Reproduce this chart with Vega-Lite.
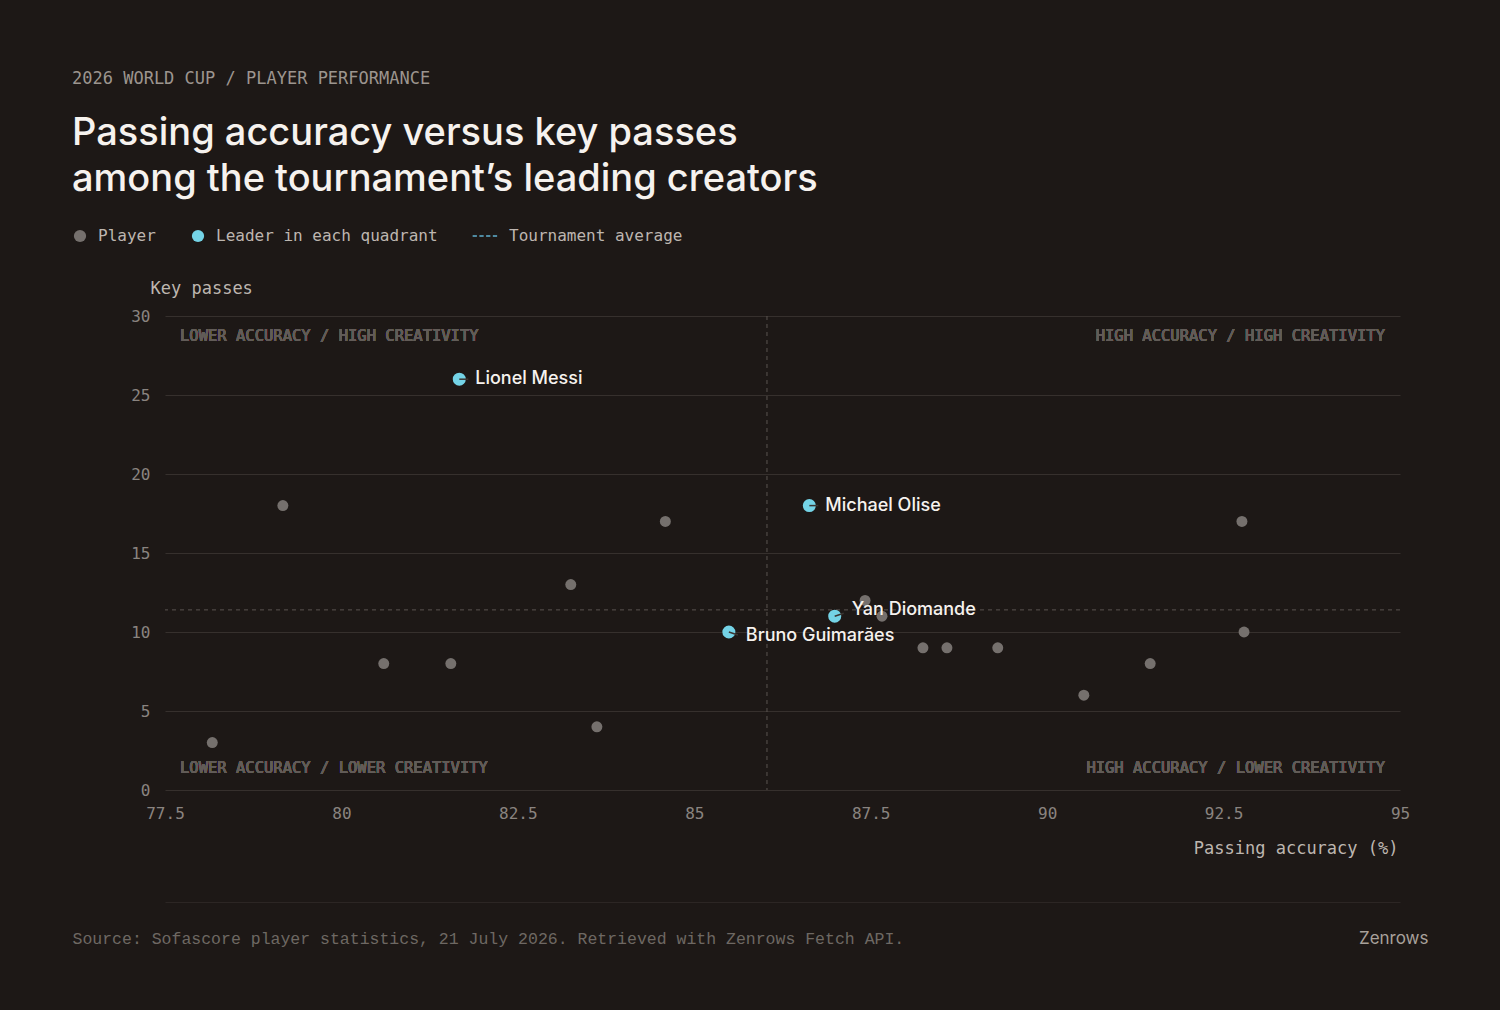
{
  "$schema": "https://vega.github.io/schema/vega-lite/v6.json",
  "width": 1235,
  "height": 474,
  "autosize": {"type": "none"},
  "padding": {"left": 165, "top": 316, "right": 100, "bottom": 220},
  "background": "#1d1816",
  "title": {
    "text": "2026 WORLD CUP / PLAYER PERFORMANCE",
    "subtitle": ["Passing accuracy versus key passes", "among the tournament’s leading creators"],
    "anchor": "start",
    "frame": "group",
    "dx": -93,
    "font": "DejaVu Sans Mono",
    "fontSize": 17,
    "fontWeight": "normal",
    "color": "#9c958f",
    "subtitleFont": "Inter",
    "subtitleFontSize": 38,
    "subtitleFontWeight": 500,
    "subtitleColor": "#f6f2ee",
    "subtitleLineHeight": 46,
    "subtitlePadding": 27,
    "offset": 28
  },
  "datasets": {
    "players": [
      {"player": "Player A", "kind": "Player", "accuracy": 78.17, "keyPasses": 3},
      {"player": "Player B", "kind": "Player", "accuracy": 79.17, "keyPasses": 18},
      {"player": "Player C", "kind": "Player", "accuracy": 80.6, "keyPasses": 8},
      {"player": "Player D", "kind": "Player", "accuracy": 81.55, "keyPasses": 8},
      {"player": "Player E", "kind": "Player", "accuracy": 83.25, "keyPasses": 13},
      {"player": "Player F", "kind": "Player", "accuracy": 83.62, "keyPasses": 4},
      {"player": "Player G", "kind": "Player", "accuracy": 84.59, "keyPasses": 17},
      {"player": "Player H", "kind": "Player", "accuracy": 87.42, "keyPasses": 12},
      {"player": "Player I", "kind": "Player", "accuracy": 87.66, "keyPasses": 11},
      {"player": "Player J", "kind": "Player", "accuracy": 88.24, "keyPasses": 9},
      {"player": "Player K", "kind": "Player", "accuracy": 88.58, "keyPasses": 9},
      {"player": "Player L", "kind": "Player", "accuracy": 89.3, "keyPasses": 9},
      {"player": "Player M", "kind": "Player", "accuracy": 90.52, "keyPasses": 6},
      {"player": "Player N", "kind": "Player", "accuracy": 91.46, "keyPasses": 8},
      {"player": "Player O", "kind": "Player", "accuracy": 92.76, "keyPasses": 17},
      {"player": "Player P", "kind": "Player", "accuracy": 92.79, "keyPasses": 10},
      {"player": "Lionel Messi", "kind": "Leader in each quadrant", "accuracy": 81.67, "keyPasses": 26},
      {"player": "Michael Olise", "kind": "Leader in each quadrant", "accuracy": 86.63, "keyPasses": 18},
      {"player": "Yan Diomande", "kind": "Leader in each quadrant", "accuracy": 86.99, "keyPasses": 11},
      {"player": "Bruno Guimarães", "kind": "Leader in each quadrant", "accuracy": 85.49, "keyPasses": 10}
    ],
    "averages": [
      {"accuracy": 86.03, "keyPasses": 11.4}
    ]
  },
  "data": {"name": "players"},
  "layer": [
    {
      "data": {"name": "averages"},
      "mark": {"type": "rule", "color": "#5a5350", "strokeWidth": 1, "strokeDash": [4, 4]},
      "encoding": {
        "x": {
          "field": "accuracy", "type": "quantitative",
          "scale": {"domain": [77.5, 95], "nice": false, "zero": false},
          "axis": {
            "orient": "bottom",
            "values": [77.5, 80, 82.5, 85, 87.5, 90, 92.5, 95],
            "format": ".1~f",
            "grid": false, "domain": false, "ticks": false, "tickSize": 0,
            "labelPadding": 15,
            "labelFont": "DejaVu Sans Mono", "labelFontSize": 16, "labelColor": "#8a8480",
            "labelFlush": false,
            "title": "Passing accuracy (%)",
            "titleFont": "DejaVu Sans Mono", "titleFontSize": 17, "titleFontWeight": "normal",
            "titleColor": "#bdb6b0",
            "titleX": 1233, "titleY": 58, "titleAlign": "right", "titleBaseline": "middle"
          }
        }
      }
    },
    {
      "data": {"name": "averages"},
      "mark": {"type": "rule", "color": "#5a5350", "strokeWidth": 1, "strokeDash": [4, 4]},
      "encoding": {
        "y": {
          "field": "keyPasses", "type": "quantitative",
          "scale": {"domain": [0, 30], "nice": false},
          "axis": {
            "values": [0, 5, 10, 15, 20, 25, 30],
            "grid": true, "gridColor": "#36302d", "gridWidth": 1.2,
            "domain": false, "ticks": false, "tickSize": 0,
            "labelPadding": 15,
            "labelFont": "DejaVu Sans Mono", "labelFontSize": 16, "labelColor": "#8a8480",
            "labelFlush": false,
            "title": "Key passes",
            "titleFont": "DejaVu Sans Mono", "titleFontSize": 17, "titleFontWeight": "normal",
            "titleColor": "#bdb6b0",
            "titleAngle": 0, "titleX": -15, "titleY": -28, "titleAlign": "left", "titleBaseline": "middle"
          }
        }
      }
    },
    {
      "transform": [{"filter": "datum.kind === 'Player'"}],
      "mark": {"type": "point", "filled": true, "size": 120, "opacity": 1},
      "encoding": {
        "x": {
          "field": "accuracy", "type": "quantitative",
          "axis": {
            "orient": "bottom", "offset": 112,
            "labels": false, "ticks": false, "grid": false,
            "domain": false,
            "title": "Zenrows",
            "titleFont": "Inter", "titleFontSize": 17, "titleFontWeight": "normal",
            "titleColor": "#a8a19b",
            "titleX": 1263, "titleY": 36, "titleAlign": "right", "titleBaseline": "middle"
          }
        },
        "y": {"field": "keyPasses", "type": "quantitative"},
        "color": {
          "field": "kind", "type": "nominal", "title": null,
          "scale": {
            "domain": ["Player", "Leader in each quadrant", "Tournament average"],
            "range": ["#75706d", "#74d3e6", "#5fb0cf"]
          },
          "legend": {
            "orient": "none", "legendX": -93, "legendY": -88,
            "direction": "horizontal", "columnPadding": 34,
            "symbolSize": 150, "symbolStrokeWidth": 0, "labelOffset": 10, "labelLimit": 400,
            "labelFont": "DejaVu Sans Mono", "labelFontSize": 16, "labelColor": "#bdb6b0"
          }
        },
        "shape": {
          "field": "kind", "type": "nominal", "title": null,
          "scale": {
            "domain": ["Player", "Leader in each quadrant", "Tournament average"],
            "range": ["circle", "circle", "M-3,-0.12H-2.3V0.12H-3Z M-1.9,-0.12H-1.2V0.12H-1.9Z M-0.8,-0.12H-0.1V0.12H-0.8Z M0.3,-0.12H1V0.12H0.3Z"]
          },
          "legend": {
            "orient": "none", "legendX": -93, "legendY": -88,
            "direction": "horizontal", "columnPadding": 34,
            "symbolSize": 150, "symbolStrokeWidth": 0, "labelOffset": 10, "labelLimit": 400,
            "labelFont": "DejaVu Sans Mono", "labelFontSize": 16, "labelColor": "#bdb6b0"
          }
        }
      }
    },
    {
      "transform": [{"filter": "datum.kind !== 'Player'"}],
      "mark": {"type": "point", "filled": true, "size": 170, "opacity": 1},
      "encoding": {
        "x": {
          "field": "accuracy", "type": "quantitative",
          "axis": {
            "orient": "bottom", "offset": 112,
            "labels": false, "ticks": false, "grid": false,
            "domain": true, "domainColor": "#2c2624", "domainWidth": 1,
            "title": "Source: Sofascore player statistics, 21 July 2026. Retrieved with Zenrows Fetch API.",
            "titleFont": "Liberation Mono", "titleFontSize": 16.5, "titleFontWeight": "normal",
            "titleColor": "#6e6863", "titleLimit": 1000,
            "titleX": -93, "titleY": 36, "titleAlign": "left", "titleBaseline": "middle"
          }
        },
        "y": {"field": "keyPasses", "type": "quantitative"},
        "color": {"field": "kind", "type": "nominal", "title": null},
        "shape": {"field": "kind", "type": "nominal", "title": null}
      }
    },
    {
      "transform": [{"filter": "datum.player === 'Lionel Messi' || datum.player === 'Michael Olise'"}],
      "mark": {"type": "rule", "color": "#3b3532", "strokeWidth": 1.5, "x2Offset": 9},
      "encoding": {
        "x": {"field": "accuracy", "type": "quantitative", "axis": null},
        "x2": {"field": "accuracy"},
        "y": {"field": "keyPasses", "type": "quantitative"},
        "y2": {"field": "keyPasses"}
      }
    },
    {
      "transform": [{"filter": "datum.player === 'Yan Diomande'"}],
      "mark": {"type": "rule", "color": "#3b3532", "strokeWidth": 1.5, "x2Offset": 9, "y2Offset": -3},
      "encoding": {
        "x": {"field": "accuracy", "type": "quantitative", "axis": null},
        "x2": {"field": "accuracy"},
        "y": {"field": "keyPasses", "type": "quantitative"},
        "y2": {"field": "keyPasses"}
      }
    },
    {
      "transform": [{"filter": "datum.player === 'Bruno Guimarães'"}],
      "mark": {"type": "rule", "color": "#3b3532", "strokeWidth": 1.5, "x2Offset": 9, "y2Offset": 3},
      "encoding": {
        "x": {"field": "accuracy", "type": "quantitative", "axis": null},
        "x2": {"field": "accuracy"},
        "y": {"field": "keyPasses", "type": "quantitative"},
        "y2": {"field": "keyPasses"}
      }
    },
    {
      "transform": [{"filter": "datum.player === 'Lionel Messi' || datum.player === 'Michael Olise'"}],
      "mark": {"type": "text", "align": "left", "baseline": "middle", "dx": 16, "font": "Inter", "fontSize": 18, "fontWeight": 500, "color": "#f6f2ee"},
      "encoding": {
        "x": {"field": "accuracy", "type": "quantitative", "axis": null},
        "y": {"field": "keyPasses", "type": "quantitative"},
        "text": {"field": "player"}
      }
    },
    {
      "transform": [{"filter": "datum.player === 'Yan Diomande'"}],
      "mark": {"type": "text", "align": "left", "baseline": "middle", "dx": 17, "dy": -6, "font": "Inter", "fontSize": 18, "fontWeight": 500, "color": "#f6f2ee"},
      "encoding": {
        "x": {"field": "accuracy", "type": "quantitative", "axis": null},
        "y": {"field": "keyPasses", "type": "quantitative"},
        "text": {"field": "player"}
      }
    },
    {
      "transform": [{"filter": "datum.player === 'Bruno Guimarães'"}],
      "mark": {"type": "text", "align": "left", "baseline": "middle", "dx": 17, "dy": 4, "font": "Inter", "fontSize": 18, "fontWeight": 500, "color": "#f6f2ee"},
      "encoding": {
        "x": {"field": "accuracy", "type": "quantitative", "axis": null},
        "y": {"field": "keyPasses", "type": "quantitative"},
        "text": {"field": "player"}
      }
    },
    {
      "mark": {"type": "text", "align": "left", "baseline": "middle", "dx": 15, "dy": 20, "font": "DejaVu Sans Mono", "fontSize": 15.5, "fontWeight": "normal", "color": "#625c58"},
      "encoding": {
        "x": {"datum": 77.5, "type": "quantitative", "axis": null},
        "y": {"datum": 30, "type": "quantitative"},
        "text": {"value": "LOWER ACCURACY / HIGH CREATIVITY"}
      }
    },
    {
      "mark": {"type": "text", "align": "right", "baseline": "middle", "dx": -15, "dy": 20, "font": "DejaVu Sans Mono", "fontSize": 15.5, "fontWeight": "normal", "color": "#625c58"},
      "encoding": {
        "x": {"datum": 95, "type": "quantitative", "axis": null},
        "y": {"datum": 30, "type": "quantitative"},
        "text": {"value": "HIGH ACCURACY / HIGH CREATIVITY"}
      }
    },
    {
      "mark": {"type": "text", "align": "left", "baseline": "middle", "dx": 15, "dy": -22, "font": "DejaVu Sans Mono", "fontSize": 15.5, "fontWeight": "normal", "color": "#625c58"},
      "encoding": {
        "x": {"datum": 77.5, "type": "quantitative", "axis": null},
        "y": {"datum": 0, "type": "quantitative"},
        "text": {"value": "LOWER ACCURACY / LOWER CREATIVITY"}
      }
    },
    {
      "mark": {"type": "text", "align": "right", "baseline": "middle", "dx": -15, "dy": -22, "font": "DejaVu Sans Mono", "fontSize": 15.5, "fontWeight": "normal", "color": "#625c58"},
      "encoding": {
        "x": {"datum": 95, "type": "quantitative", "axis": null},
        "y": {"datum": 0, "type": "quantitative"},
        "text": {"value": "HIGH ACCURACY / LOWER CREATIVITY"}
      }
    }
  ],
  "resolve": {"axis": {"x": "independent"}},
  "config": {
    "view": {"stroke": null},
    "font": "DejaVu Sans Mono"
  }
}
